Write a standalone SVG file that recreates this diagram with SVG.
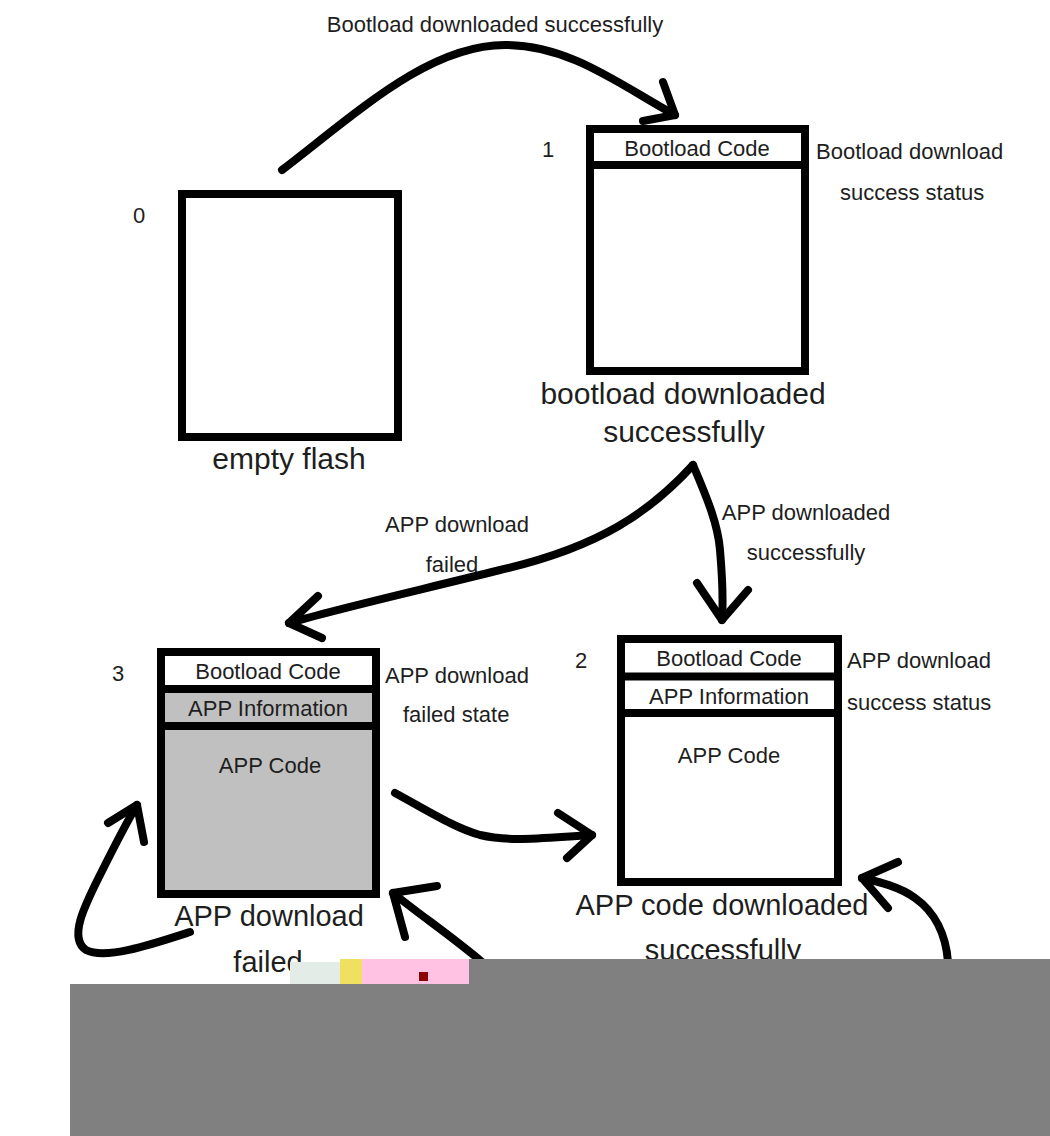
<svg xmlns="http://www.w3.org/2000/svg" width="1050" height="1136" viewBox="0 0 1050 1136">
<style>
.box{fill:#fff;stroke:#000;stroke-width:8}
.div{stroke:#000;stroke-width:8}
.t{font-family:"Liberation Sans",Arial,sans-serif;font-size:22px;fill:#1e1e1e}
.big{font-family:"Liberation Sans",Arial,sans-serif;font-size:30px;fill:#1e1e1e}
.mid{text-anchor:middle}
.arr{fill:none;stroke:#000;stroke-width:8;stroke-linecap:round;stroke-linejoin:round}
</style>
<rect width="1050" height="1136" fill="#fff"/>

<g id="node0">
<rect class="box" x="182" y="194" width="216" height="243"/>
<text class="t" x="139" y="223" text-anchor="middle">0</text>
<text class="big mid" x="289" y="469">empty flash</text>
</g>

<g id="node1">
<rect class="box" x="590" y="129" width="215" height="242"/>
<line class="div" x1="590" y1="165" x2="805" y2="165"/>
<text class="t mid" x="697" y="156">Bootload Code</text>
<text class="t" x="548" y="157" text-anchor="middle">1</text>
<text class="t" x="816" y="159">Bootload download</text>
<text class="t" x="840" y="200">success status</text>
<text class="big mid" x="683" y="404">bootload downloaded</text>
<text class="big mid" x="684" y="442">successfully</text>
</g>

<g id="node3">
<rect x="161" y="689" width="215" height="205" fill="#c0c0c0"/>
<rect x="161" y="652" width="215" height="242" fill="none" stroke="#000" stroke-width="8"/>
<line class="div" x1="161" y1="689" x2="376" y2="689"/>
<line class="div" x1="161" y1="726" x2="376" y2="726"/>
<text class="t mid" x="268" y="679">Bootload Code</text>
<text class="t mid" x="268" y="716">APP Information</text>
<text class="t mid" x="270" y="773">APP Code</text>
<text class="t" x="118" y="681" text-anchor="middle">3</text>
<text class="t" x="385" y="683">APP download</text>
<text class="t" x="403" y="722">failed state</text>
<text class="big mid" x="269" y="926" style="font-size:29px">APP download</text>
<text class="big mid" x="268" y="972" style="font-size:29px">failed</text>
</g>

<g id="node2">
<rect class="box" x="621" y="639" width="217" height="243"/>
<line class="div" x1="621" y1="676.5" x2="838" y2="676.5"/>
<line class="div" x1="621" y1="713" x2="838" y2="713"/>
<text class="t mid" x="729" y="666">Bootload Code</text>
<text class="t mid" x="729" y="704">APP Information</text>
<text class="t mid" x="729" y="763">APP Code</text>
<text class="t" x="581" y="668" text-anchor="middle">2</text>
<text class="t" x="847" y="668">APP download</text>
<text class="t" x="847" y="710">success status</text>
<text class="big mid" x="722" y="915" style="font-size:29px">APP code downloaded</text>
<text class="big mid" x="723" y="960" style="font-size:29px">successfully</text>
</g>

<g id="labels">
<text class="t mid" x="495" y="32">Bootload downloaded successfully</text>
<text class="t mid" x="457" y="532">APP download</text>
<text class="t mid" x="452" y="572">failed</text>
<text class="t mid" x="806" y="520">APP downloaded</text>
<text class="t mid" x="806" y="560">successfully</text>
</g>

<g id="connectors">
<path class="arr" d="M282,170 C360,110 430,45 505,45 C570,45 620,85 675,115"/>
<path class="arr" d="M663,82 L675,115 L643,121"/>

<path class="arr" d="M693,465 C650,512 600,547 500,570 C420,590 340,608 289,623"/>
<path class="arr" d="M318,596 L289,623 L322,638"/>

<path class="arr" d="M693,465 C708,500 718,525 720,550 C723,585 723,605 722,620"/>
<path class="arr" d="M697,583 L722,620 L748,590"/>

<path class="arr" d="M395,793 C430,812 455,828 480,835 C510,842 540,838 592,835"/>
<path class="arr" d="M558,813 L592,835 L567,858"/>

<path class="arr" d="M190,932 C150,945 105,960 86,950 C68,938 85,905 100,875 C115,845 125,825 137,805"/>
<path class="arr" d="M108,823 L137,805 L144,842"/>

<path class="arr" d="M482,962 C450,935 420,915 393,893"/>
<path class="arr" d="M437,886 L393,893 L405,937"/>

<path class="arr" d="M948,962 C946,935 935,912 915,898 C900,887 880,882 862,878"/>
<path class="arr" d="M898,862 L862,878 L888,908"/>
</g>

<g id="overlay">
<rect x="290" y="962" width="50" height="22" fill="#e4ece8"/>
<rect x="340" y="959" width="22" height="25" fill="#f0e060"/>
<rect x="362" y="959" width="107" height="25" fill="#ffc2e2"/>
<rect x="419" y="972" width="9" height="9" fill="#8b0000"/>
<rect x="469" y="959" width="581" height="177" fill="#808080"/>
<rect x="70" y="984" width="980" height="152" fill="#808080"/>
</g>
</svg>
